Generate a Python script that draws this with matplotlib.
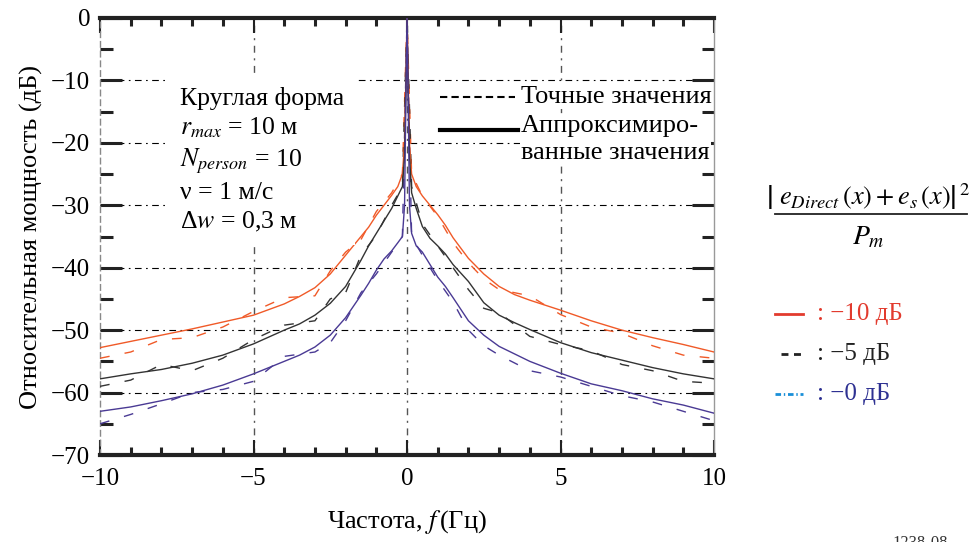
import matplotlib
matplotlib.use("Agg")
import matplotlib.pyplot as plt
from matplotlib.ticker import MultipleLocator

# ======================================================
# Данные
# ======================================================
freq = [-10, -9, -8, -7, -6, -5, -4, -3.5, -3, -2.5, -2, -1.5, -1.25, -1, -0.75,
        -0.5, -0.3, -0.15, -0.08, -0.03, 0,
        0.03, 0.08, 0.15, 0.3, 0.5, 0.75, 1.0, 1.25, 1.5, 2.0, 2.5, 3.0, 3.5,
        4.0, 5.0, 6.0, 7.0, 8.0, 9.0, 10.0]

approx_m10 = [-52.8, -51.8, -50.8, -49.8, -48.7, -47.6, -45.8, -44.6, -43.2, -41.0,
              -38.0, -35.0, -33.5, -31.6, -30.0, -28.4, -27.0, -25.0, -20.0, -8.0, 0.0,
              -8.0, -20.0, -25.0, -27.0, -28.5, -30.0, -31.5, -33.2, -35.2, -38.5,
              -41.0, -43.0, -44.3, -45.2, -46.8, -48.5, -50.0, -51.2, -52.3, -53.5]
approx_m5 = [-57.8, -57.0, -56.3, -55.3, -54.0, -52.2, -50.0, -49.0, -47.6, -45.7,
             -43.0, -38.8, -36.5, -34.5, -32.5, -30.5, -28.5, -27.0, -22.0, -10.0, 0.0,
             -10.0, -22.0, -28.0, -30.5, -33.4, -35.3, -36.5, -37.8, -39.5, -42.2,
             -45.6, -47.6, -48.8, -49.9, -52.0, -53.6, -54.8, -56.0, -57.0, -57.8]
approx_0 = [-63.0, -62.3, -61.3, -60.2, -58.8, -57.0, -55.0, -54.0, -52.7, -50.8,
            -48.0, -44.4, -42.5, -40.4, -38.6, -37.3, -36.0, -35.0, -30.0, -10.0, 0.0,
            -10.0, -30.0, -34.5, -36.5, -37.5, -39.5, -41.5, -43.0, -44.8, -48.5,
            -50.8, -52.6, -53.8, -55.0, -56.9, -58.6, -59.7, -61.0, -62.0, -63.3]

freq_exact = [-10, -9, -8, -7, -6, -5, -4, -3, -2.5, -2, -1.5, -1, -0.5, -0.15, 0,
              0.15, 0.5, 1, 1.5, 2, 2.5, 3, 4, 5, 6, 7, 8, 9, 10]
exact_m10 = [-54.5, -53.5, -51.5, -51.2, -49.5, -47.0, -44.8, -44.5, -40.5, -37.5,
             -35.5, -31.0, -28.0, -25.0, 0.0, -25.0, -28.5, -31.8, -36.0, -39.2,
             -41.8, -43.5, -44.5, -47.5, -49.5, -50.5, -52.5, -54.0, -54.5]
exact_m5 = [-59.0, -58.0, -55.5, -56.5, -54.5, -51.5, -49.2, -48.5, -45.0, -44.0,
            -38.0, -34.8, -30.0, -27.0, 0.0, -27.0, -33.0, -36.5, -40.0, -43.5,
            -46.5, -47.2, -51.0, -52.3, -53.3, -55.5, -56.5, -58.2, -58.5]
exact_0 = [-65.0, -63.5, -61.8, -60.0, -59.5, -58.2, -54.2, -53.5, -52.0, -48.5,
           -44.0, -41.0, -37.5, -35.0, 0.0, -35.0, -38.0, -42.0, -45.5, -50.0,
           -52.5, -54.0, -56.5, -57.5, -59.0, -60.5, -61.5, -63.0, -64.5]

x_ticks = [-10, -5, 0, 5, 10]
x_labels = ["\u221210", "\u22125", "0", "5", "10"]
y_ticks = [0, -10, -20, -30, -40, -50, -60, -70]
y_labels = ["0", "\u221210", "\u221220", "\u221230", "\u221240",
            "\u221250", "\u221260", "\u221270"]

ORANGE = "#f05a28"
BLACK = "#333333"
BLUE = "#4a3a94"

plt.rcParams["font.family"] = ["Liberation Serif", "DejaVu Serif"]
plt.rcParams["mathtext.fontset"] = "stix"

# ======================================================
# Рисунок
# ======================================================
fig = plt.figure(figsize=(9.77, 5.42), dpi=100)
ax = fig.add_axes([0.1024, 0.1605, 0.6284, 0.8063])

for y in [-10, -20, -30, -40, -50, -60]:
    ax.axhline(y, color="black", lw=0.8, ls=(0, (6, 4, 1.5, 4)), zorder=1)
for x in [-5, 0, 5]:
    ax.axvline(x, color="#555555", lw=1.0, ls=(0, (5, 4, 1.5, 4)), zorder=1)

dash = (0, (7, 11))
ax.plot(freq_exact, exact_m10, color=ORANGE, lw=1.0, ls=dash, zorder=3)
ax.plot(freq_exact, exact_m5, color=BLACK, lw=1.0, ls=dash, zorder=3)
ax.plot(freq_exact, exact_0, color=BLUE, lw=1.0, ls=dash, zorder=3)
ax.plot(freq, approx_m10, color=ORANGE, lw=1.0, zorder=4)
ax.plot(freq, approx_m5, color=BLACK, lw=1.0, zorder=4)
ax.plot(freq, approx_0, color=BLUE, lw=1.0, zorder=4)

ax.set_xlim(-10, 10)
ax.set_ylim(-70, 0)
ax.set_xticks(x_ticks)
ax.set_xticklabels(x_labels)
ax.set_yticks(y_ticks)
ax.set_yticklabels(y_labels)
ax.xaxis.set_minor_locator(MultipleLocator(1))
ax.yaxis.set_minor_locator(MultipleLocator(5))
ax.tick_params(axis="both", which="both", direction="in", top=True, right=True,
               labelsize=18, color="#222222")
ax.tick_params(axis="x", which="major", length=11, width=1.5, pad=9)
ax.tick_params(axis="x", which="minor", length=6, width=2.2)
ax.tick_params(axis="y", which="major", length=16, width=2.2, pad=7)
ax.tick_params(axis="y", which="minor", length=9, width=2.2)

for side in ["top", "bottom"]:
    ax.spines[side].set_linewidth(3)
    ax.spines[side].set_color("#222222")
ax.spines["left"].set_linestyle((0, (4, 3)))
ax.spines["left"].set_color("#888888")
ax.spines["left"].set_linewidth(1)
ax.spines["right"].set_color("#999999")
ax.spines["right"].set_linewidth(1)

ax.set_xlabel("Частота, $f\\,$(Гц)", fontsize=19, labelpad=13)
ax.set_ylabel("Относительная мощность (дБ)", fontsize=19, labelpad=6)

# параметры
ax.text(-7.4, -11.0,
        "Круглая форма\n$r_{max}$ = 10 м\n$N_{person}$ = 10\nν = 1 м/с\nΔ$w$ = 0,3 м",
        fontsize=18.5, va="top", ha="left", linespacing=1.32, zorder=5,
        bbox=dict(facecolor="white", edgecolor="none", pad=8))

# легенда внутри
ax.plot([1.07, 3.52], [-12.65, -12.65], color="black", lw=1.5, ls=(0, (3.5, 2)), zorder=6)
ax.plot([1.07, 3.6], [-17.9, -17.9], color="black", lw=3, zorder=6)
ax.text(3.72, -12.65, "Точные значения", fontsize=19, va="center", ha="left", zorder=5,
        bbox=dict(facecolor="white", edgecolor="none", pad=1))
ax.text(3.72, -15.6, "Аппроксимиро-\nванные значения", fontsize=19, va="top",
        ha="left", zorder=5, linespacing=1.3,
        bbox=dict(facecolor="white", edgecolor="none", pad=1))

# формула: числитель, черта, знаменатель
fig.text(0.889, 0.637, r"$\left|\ e_{Direct}\,(x) + e_{s}\,(x)\right|^{\,2}$",
         fontsize=19, ha="center", va="center")
fig.lines.append(plt.Line2D([0.793, 0.99], [0.605, 0.605], transform=fig.transFigure,
                            color="#222222", lw=1.3))
fig.text(0.889, 0.562, r"$P_m$", fontsize=20, ha="center", va="center")

# легенда справа
fig.lines.append(plt.Line2D([0.793, 0.822], [0.42, 0.42], transform=fig.transFigure,
                            color="#e23b2e", lw=2))
fig.lines.append(plt.Line2D([0.799, 0.822], [0.347, 0.347], transform=fig.transFigure,
                            color="#222222", lw=2, ls=(0, (2.5, 2))))
fig.lines.append(plt.Line2D([0.793, 0.822], [0.273, 0.273], transform=fig.transFigure,
                            color="#1a8fd8", lw=2, ls=(0, (2, 1, 0.5, 1))))
fig.text(0.836, 0.42, ": \u221210 дБ", fontsize=18, color="#e23b2e", va="center")
fig.text(0.836, 0.347, ": \u22125 дБ", fontsize=18, color="#222222", va="center")
fig.text(0.836, 0.273, ": \u22120 дБ", fontsize=18, color="#2e3192", va="center")

fig.text(0.914, 0.013, "1238-08", fontsize=12, color="#333333", va="top")

fig.savefig("out.png", dpi=100)
